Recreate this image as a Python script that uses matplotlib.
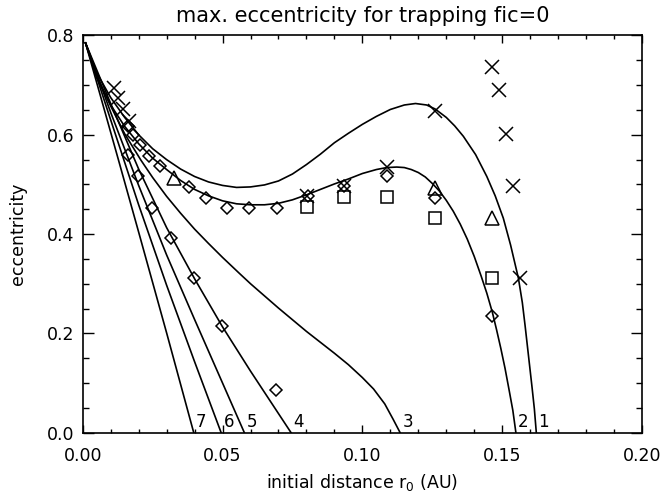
from matplotlib import pyplot as plt
from matplotlib.ticker import MultipleLocator, FormatStrFormatter

# trapping limit curves, labelled 1..7 at the bottom
c1_x = [0.001, 0.005, 0.01, 0.015, 0.02, 0.025, 0.03, 0.035, 0.04, 0.045, 0.05, 0.055, 0.06,
        0.065, 0.07, 0.075, 0.08, 0.085, 0.09, 0.095, 0.1, 0.105, 0.11, 0.115, 0.119, 0.123,
        0.126, 0.13, 0.133, 0.1361, 0.1405, 0.1445, 0.1475, 0.1504, 0.153, 0.1558, 0.1572,
        0.1582, 0.1595, 0.1607, 0.1615, 0.1622]
c1_y = [0.785, 0.725, 0.675, 0.635, 0.600, 0.572, 0.550, 0.531, 0.516, 0.505, 0.498, 0.494, 0.495,
        0.499, 0.507, 0.521, 0.540, 0.561, 0.584, 0.603, 0.621, 0.637, 0.651, 0.660, 0.663, 0.660,
        0.652, 0.635, 0.618, 0.597, 0.560, 0.516, 0.477, 0.432, 0.378, 0.311, 0.262,
        0.215, 0.150, 0.090, 0.048, 0.0]

c2_x = [0.001, 0.005, 0.01, 0.015, 0.02, 0.025, 0.03, 0.035, 0.04, 0.045, 0.05, 0.055, 0.06,
        0.065, 0.07, 0.075, 0.08, 0.085, 0.09, 0.095, 0.1, 0.105, 0.1087, 0.1123, 0.115, 0.1175,
        0.12, 0.1225, 0.125, 0.1275, 0.13, 0.1325, 0.135, 0.1375, 0.14, 0.1425, 0.1445, 0.1465,
        0.148, 0.1495, 0.151, 0.1525, 0.1538, 0.1549]
c2_y = [0.785, 0.715, 0.660, 0.617, 0.582, 0.553, 0.530, 0.508, 0.490, 0.477, 0.467, 0.461, 0.459,
        0.459, 0.462, 0.469, 0.479, 0.490, 0.501, 0.511, 0.522, 0.530, 0.534, 0.535, 0.534, 0.530,
        0.524, 0.515, 0.502, 0.487, 0.468, 0.446, 0.420, 0.390, 0.355, 0.315, 0.281, 0.242,
        0.207, 0.170, 0.130, 0.085, 0.045, 0.0]

c3_x = [0.001, 0.005, 0.01, 0.015, 0.0208, 0.025, 0.03, 0.035, 0.04, 0.045, 0.05, 0.056, 0.06,
        0.07, 0.08, 0.09, 0.095, 0.1, 0.104, 0.108, 0.111, 0.1135]
c3_y = [0.785, 0.720, 0.658, 0.602, 0.549, 0.514, 0.476, 0.442, 0.410, 0.381, 0.353, 0.321, 0.300,
        0.251, 0.204, 0.160, 0.137, 0.111, 0.088, 0.058, 0.027, 0.0]

c4_x = [0.001, 0.01, 0.02, 0.03, 0.04, 0.05, 0.06, 0.0745]
c4_y = [0.785, 0.663, 0.531, 0.413, 0.310, 0.213, 0.124, 0.0]

c5_x = [0.001, 0.01, 0.02, 0.03, 0.04, 0.05, 0.0578]
c5_y = [0.785, 0.645, 0.498, 0.358, 0.228, 0.100, 0.0]

c6_x = [0.001, 0.01, 0.02, 0.03, 0.04, 0.0495]
c6_y = [0.785, 0.630, 0.459, 0.297, 0.143, 0.0]

c7_x = [0.001, 0.0127, 0.02, 0.03, 0.0397]
c7_y = [0.785, 0.551, 0.404, 0.201, 0.0]

curve_names = ["1", "2", "3", "4", "5", "6", "7"]

# simulation results
cross_x = [0.0111, 0.0126, 0.0143, 0.0164, 0.0803, 0.0936, 0.1087, 0.126,
           0.1463, 0.1489, 0.1514, 0.154, 0.1564]
cross_y = [0.695, 0.675, 0.652, 0.627, 0.476, 0.496, 0.536, 0.647,
           0.737, 0.691, 0.602, 0.496, 0.311]

diam_x = [0.0163, 0.0180, 0.0205, 0.0237, 0.0276, 0.0379, 0.044, 0.0515, 0.0596, 0.0694,
          0.0805, 0.0935, 0.1087, 0.126, 0.1463,
          0.0161, 0.0197, 0.0249, 0.0315, 0.0398, 0.0497, 0.069]
diam_y = [0.617, 0.599, 0.579, 0.558, 0.537, 0.495, 0.4725, 0.452, 0.452, 0.452,
          0.476, 0.496, 0.516, 0.4725, 0.235,
          0.560, 0.516, 0.452, 0.392, 0.311, 0.214, 0.085]

sq_x = [0.0803, 0.0936, 0.1087, 0.126, 0.1463]
sq_y = [0.454, 0.474, 0.4745, 0.432, 0.311]

tri_x = [0.0328, 0.126, 0.1463]
tri_y = [0.513, 0.493, 0.432]


def plot_trapping():
    plt.rcParams['font.family'] = 'DejaVu Sans'
    plt.rcParams['font.size'] = 12.5
    fig = plt.figure(figsize=(6.66, 4.95), dpi=100)
    ax = fig.add_axes([0.1242, 0.1259, 0.8398, 0.8024])

    curves = [(c1_x, c1_y), (c2_x, c2_y), (c3_x, c3_y), (c4_x, c4_y),
              (c5_x, c5_y), (c6_x, c6_y), (c7_x, c7_y)]
    for (cx, cy), name in zip(curves, curve_names):
        ax.plot(cx, cy, color='black', lw=1.2)
        ax.text(cx[-1] + 0.0008, 0.004, name, ha='left', va='bottom', fontsize=12)

    mk = dict(color='black', linestyle='none', fillstyle='none', mew=1.1)
    ax.plot(cross_x, cross_y, marker='x', ms=9.5, **mk)
    ax.plot(diam_x, diam_y, marker='D', ms=6.5, **mk)
    ax.plot(sq_x, sq_y, marker='s', ms=9, **mk)
    ax.plot(tri_x, tri_y, marker='^', ms=10, **mk)

    ax.set_xlim(0, 0.2)
    ax.set_ylim(0, 0.8)
    ax.xaxis.set_major_locator(MultipleLocator(0.05))
    ax.xaxis.set_minor_locator(MultipleLocator(0.01))
    ax.yaxis.set_major_locator(MultipleLocator(0.2))
    ax.yaxis.set_minor_locator(MultipleLocator(0.05))
    ax.xaxis.set_major_formatter(FormatStrFormatter('%.2f'))
    ax.yaxis.set_major_formatter(FormatStrFormatter('%.1f'))
    ax.tick_params(axis='x', which='major', direction='in', length=5.8, width=1, top=True, pad=10)
    ax.tick_params(axis='x', which='minor', direction='in', length=2.9, width=1, top=True)
    ax.tick_params(axis='y', which='major', direction='in', length=8, width=1, right=True, pad=6)
    ax.tick_params(axis='y', which='minor', direction='in', length=4, width=1, right=True)
    for sp in ax.spines.values():
        sp.set_linewidth(1.2)

    ax.set_xlabel("initial distance r$_0$ (AU)", labelpad=5)
    ax.set_ylabel("eccentricity", labelpad=14)
    ax.set_title("max. eccentricity for trapping fic=0", pad=10)
    plt.savefig("out.png", dpi=100)


if __name__ == '__main__':
    plot_trapping()
